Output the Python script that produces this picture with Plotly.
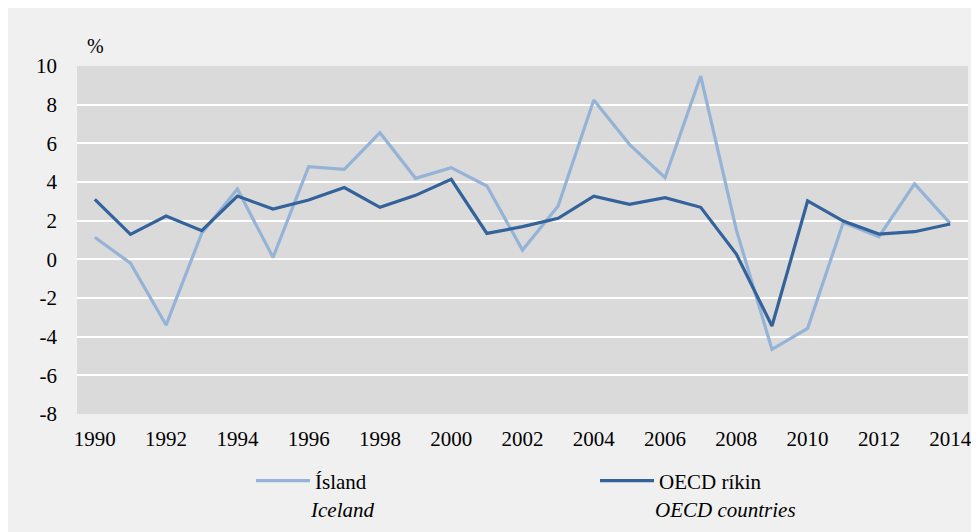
import plotly.graph_objects as go

years = list(range(1990, 2015))
iceland = [1.14, -0.2, -3.4, 1.35, 3.64, 0.1, 4.79, 4.65, 6.55, 4.19, 4.74, 3.79, 0.48, 2.76,
           8.24, 5.95, 4.22, 9.48, 1.52, -4.66, -3.57, 1.9, 1.17, 3.9, 1.86]
oecd = [3.1, 1.29, 2.24, 1.48, 3.27, 2.6, 3.07, 3.71, 2.69, 3.31, 4.14, 1.34, 1.69, 2.12,
        3.27, 2.84, 3.19, 2.69, 0.27, -3.45, 3.02, 1.98, 1.31, 1.43, 1.83]
xticks = list(range(1990, 2015, 2))
yticks = [10, 8, 6, 4, 2, 0, -2, -4, -6, -8]
yticktext = [str(v) for v in yticks]

FONT = "'Liberation Serif', 'DejaVu Serif', 'Times New Roman', Times, serif"
W, H = 979, 532
OFF = 8  # page body margin
L, R, T, B = 69, 19, 58, 126
PW, PH = W - L - R, H - T - B

def px(x):
    return (x - OFF - L) / PW

def py(y):
    return (H - B - (y - OFF)) / PH

fig = go.Figure()
fig.add_trace(go.Scatter(x=years, y=iceland, mode="lines", name="Ísland",
                         line=dict(color="#95b3d7", width=3.2), legend="legend"))
fig.add_trace(go.Scatter(x=years, y=oecd, mode="lines", name="OECD ríkin",
                         line=dict(color="#34629a", width=3.2), legend="legend2"))

annotations = [
    dict(text="%", x=px(95), y=py(46), xref="paper", yref="paper", showarrow=False,
         xanchor="center", yanchor="middle", font=dict(family=FONT, size=20, color="black")),
    dict(text="<i>Iceland</i>", x=px(308), y=py(510), xref="paper", yref="paper", showarrow=False,
         xanchor="left", yanchor="middle", font=dict(family=FONT, size=21, color="black")),
    dict(text="<i>OECD countries</i>", x=px(653), y=py(510), xref="paper", yref="paper", showarrow=False,
         xanchor="left", yanchor="middle", font=dict(family=FONT, size=21, color="black")),
]

fig.update_layout(
    width=W, height=H,
    margin=dict(l=L, r=R, t=T, b=B),
    paper_bgcolor="#f0f0f0",
    plot_bgcolor="#dadada",
    font=dict(family=FONT, size=21, color="black"),
    showlegend=True,
    legend=dict(x=px(251), y=py(481), xanchor="left", yanchor="middle", orientation="h",
                bgcolor="rgba(0,0,0,0)", itemwidth=54, font=dict(family=FONT, size=21, color="black")),
    legend2=dict(x=px(595), y=py(481), xanchor="left", yanchor="middle", orientation="h",
                 bgcolor="rgba(0,0,0,0)", itemwidth=54, font=dict(family=FONT, size=21, color="black")),
    annotations=annotations,
    xaxis=dict(range=[1989.5, 2014.5], tickvals=xticks, ticktext=[str(v) for v in xticks],
               showgrid=False, zeroline=False, showline=False, ticks="",
               tickfont=dict(family=FONT, size=21, color="black"), ticklabelstandoff=10),
    yaxis=dict(range=[-8, 10], tickvals=yticks, ticktext=yticktext,
               showgrid=True, gridcolor="white", gridwidth=2.2, zeroline=False, showline=False,
               ticks="", tickfont=dict(family=FONT, size=21, color="black"), ticklabelstandoff=19),
)

fig.write_html("out.html")
